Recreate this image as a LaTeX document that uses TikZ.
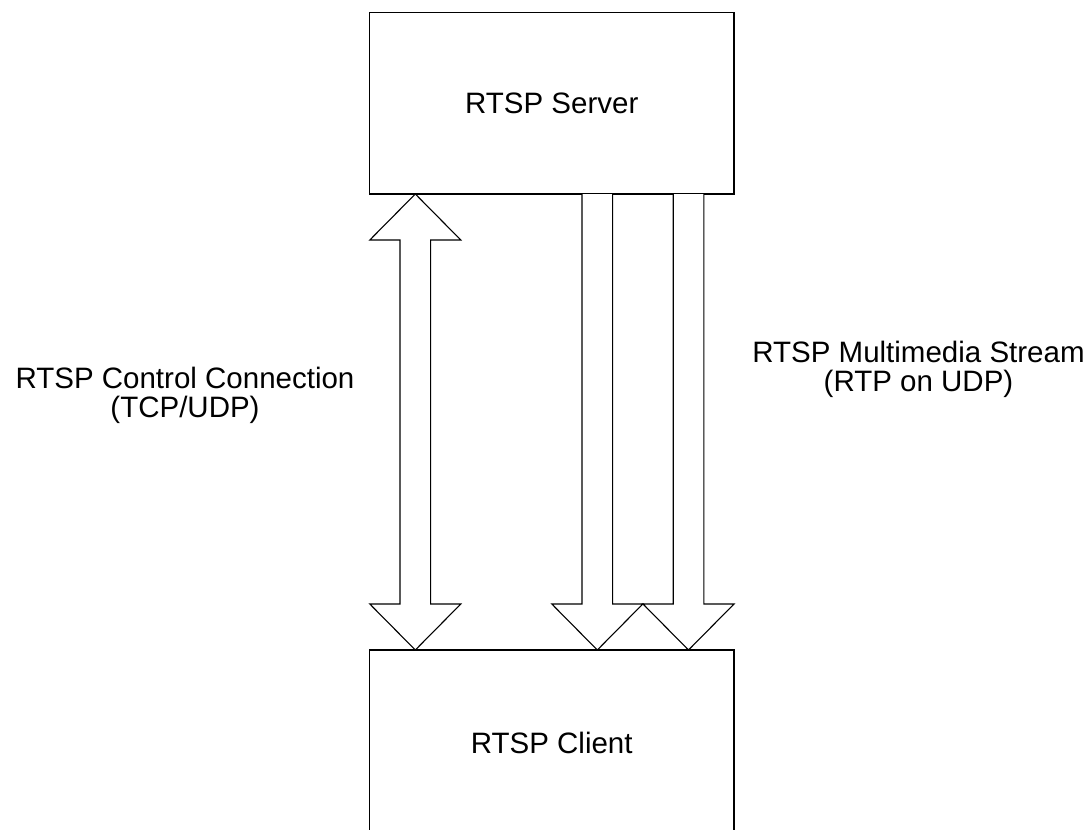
\documentclass[tikz,border=0pt]{standalone}
\usepackage{fontspec}
\setmainfont{Liberation Sans}
\begin{document}
\begin{tikzpicture}[x=1pt,y=-1pt,
  line width=1.1pt,
  box/.style={draw=black, line width=1.3pt, minimum width=364.5pt, minimum height=181.5pt,
              inner sep=0pt, font=\fontsize{29.5}{33}\selectfont},
  label/.style={align=center, inner sep=0pt, font=\fontsize{29.5}{29}\selectfont},
  flow/.style={draw=black, fill=white, line width=1.1pt, line join=miter}]
  \useasboundingbox (0,0) rectangle (1091,829);

  % end points
  \node[box] (server) at (551.75,103.25) {RTSP Server};
  \node[box, minimum height=185pt] (client) at (551.75,742.5) {RTSP Client};

  % control connection: two-headed arrow between server and client
  \begin{scope}[shift={(415.3,0)}]
    \draw[flow] (0,194) -- (45.5,240) -- (15.3,240) -- (15.3,604) -- (45.5,604)
      -- (0,650) -- (-45.5,604) -- (-15.3,604) -- (-15.3,240) -- (-45.5,240) -- cycle;
  \end{scope}

  % media streams: two arrows from server down to client
  \foreach \cx in {597.3,688.5}{
    \begin{scope}[shift={(\cx,0)}]
      \draw[flow] (-15.3,194) -- (-15.3,604) -- (-45.5,604) -- (0,650)
        -- (45.5,604) -- (15.3,604) -- (15.3,194);
    \end{scope}
  }

  % labels
  \node[label] (ctrl) at (185,395) {RTSP Control Connection\\(TCP/UDP)};
  \node[label] (media) at (918.5,369) {RTSP Multimedia Stream\\(RTP on UDP)};
\end{tikzpicture}
\end{document}
